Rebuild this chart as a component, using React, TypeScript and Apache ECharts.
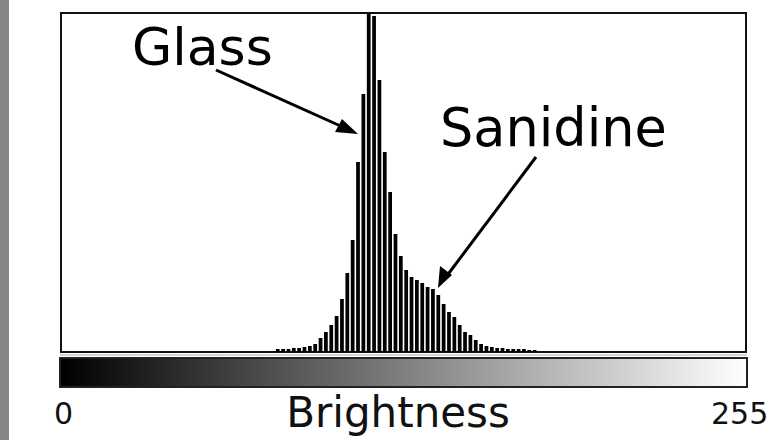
import React, { useEffect, useRef } from "react";
import * as echarts from "echarts";

// Histogram bins: each bar covers two brightness levels (0..255 -> 128 bins)
const binCount = 128;
const firstBin = 40;
const counts: number[] = [
  3, 3, 3, 4, 4, 5, 6, 8, 14, 20, 27, 36, 53, 79, 112, 190, 258, 339, 336, 272,
  200, 160, 118, 96, 82, 75, 72, 69, 65, 63, 57, 48, 40, 35, 27, 20, 17, 12, 8, 6,
  5, 4, 4, 3, 3, 3, 3, 2, 2,
];
const yMax = 339;
const tickLabels = ["0", "255"];
const axisTitle = "Brightness";
const annotations = ["Glass", "Sanidine"];

export default function App() {
  const ref = useRef<HTMLDivElement>(null);
  useEffect(() => {
    if (!ref.current) return;
    const chart = echarts.init(ref.current, null, { renderer: "svg" });
    const categories = Array.from({ length: binCount }, (_, i) => String(i * 2));
    const data = Array.from({ length: binCount }, (_, i) => {
      const j = i - firstBin;
      return j >= 0 && j < counts.length ? counts[j] : 0;
    });
    const font = "DejaVu Sans";
    chart.setOption({
      animation: false,
      backgroundColor: "#ffffff",
      grid: {
        left: 61,
        top: 13,
        width: 685,
        height: 339,
        show: true,
        borderColor: "#111",
        borderWidth: 2,
        backgroundColor: "#fff",
      },
      xAxis: {
        type: "category",
        data: categories,
        axisLine: { show: false },
        axisTick: { show: false },
        axisLabel: { show: false },
        splitLine: { show: false },
      },
      yAxis: {
        type: "value",
        min: 0,
        max: yMax,
        axisLine: { show: false },
        axisTick: { show: false },
        axisLabel: { show: false },
        splitLine: { show: false },
      },
      series: [
        {
          type: "bar",
          data,
          barWidth: "70%",
          itemStyle: { color: "#000" },
          silent: true,
        },
      ],
      graphic: [
        { type: "rect", shape: { x: 0, y: 0, width: 9, height: 440 }, style: { fill: "#858585" } },
        {
          type: "rect",
          shape: { x: 60, y: 358, width: 687, height: 29 },
          style: {
            fill: new echarts.graphic.LinearGradient(0, 0, 1, 0, [
              { offset: 0, color: "#000" },
              { offset: 1, color: "#fff" },
            ]),
            stroke: "#222",
            lineWidth: 2,
          },
        },
        { type: "line", shape: { x1: 60, y1: 355, x2: 747, y2: 355 }, style: { stroke: "#aaa", lineWidth: 1 } },
        { type: "text", x: 54, y: 398, style: { text: tickLabels[0], font: `30px '${font}'`, fill: "#111" } },
        { type: "text", x: 711, y: 398, style: { text: tickLabels[1], font: `30px '${font}'`, fill: "#111" } },
        {
          type: "text",
          x: 398,
          y: 391,
          style: { text: axisTitle, font: `42px '${font}'`, fill: "#111", align: "center" },
        },
        { type: "text", x: 132, y: 21, style: { text: annotations[0], font: `52px '${font}'`, fill: "#000" } },
        { type: "text", x: 440, y: 101, style: { text: annotations[1], font: `52.5px '${font}'`, fill: "#000" } },
        { type: "line", shape: { x1: 216, y1: 70, x2: 345, y2: 128 }, style: { stroke: "#000", lineWidth: 3 } },
        {
          type: "polygon",
          shape: { points: [[358, 134], [335, 132], [342, 119]] },
          style: { fill: "#000" },
        },
        { type: "line", shape: { x1: 536, y1: 157, x2: 446, y2: 277 }, style: { stroke: "#000", lineWidth: 3 } },
        {
          type: "polygon",
          shape: { points: [[438, 288], [440, 266], [452, 275]] },
          style: { fill: "#000" },
        },
      ],
    });
    return () => chart.dispose();
  }, []);
  return (
    <div
      ref={ref}
      style={{ position: "absolute", left: 0, top: 0, width: 776, height: 440 }}
    />
  );
}
